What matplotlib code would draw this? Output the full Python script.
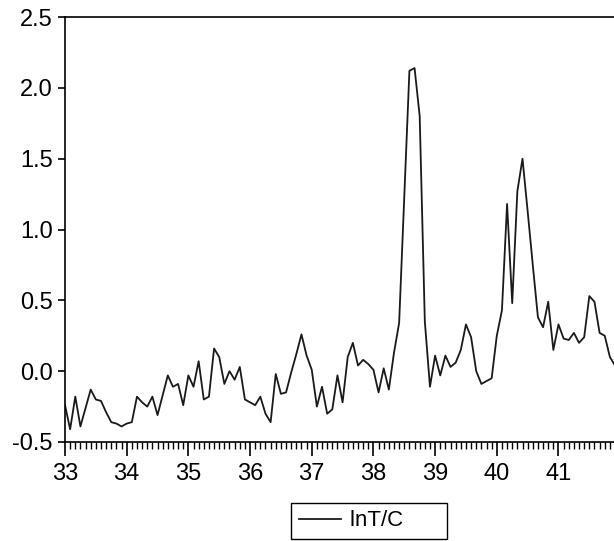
import numpy as np
import matplotlib
matplotlib.use("Agg")
import matplotlib.pyplot as plt
from matplotlib.ticker import MultipleLocator, FormatStrFormatter

plt.rcParams['font.family'] = ['Liberation Sans', 'DejaVu Sans']
plt.rcParams['axes.unicode_minus'] = False

# monthly observations starting at 33
start = 33
per_unit = 12
lnTC = [
    -0.24, -0.41, -0.18, -0.39, -0.26, -0.13, -0.20, -0.21, -0.29, -0.36,
    -0.37, -0.39, -0.37, -0.36, -0.18, -0.22, -0.25, -0.18, -0.31, -0.17,
    -0.03, -0.11, -0.09, -0.24, -0.03, -0.11, 0.07, -0.20, -0.18, 0.16,
    0.10, -0.09, 0.00, -0.06, 0.03, -0.20, -0.22, -0.24, -0.18, -0.30,
    -0.36, -0.02, -0.16, -0.15, -0.01, 0.12, 0.26, 0.11, 0.01, -0.25,
    -0.11, -0.30, -0.27, -0.03, -0.22, 0.10, 0.20, 0.04, 0.08, 0.05,
    0.01, -0.15, 0.02, -0.13, 0.13, 0.34, 1.23, 2.12, 2.14, 1.80,
    0.35, -0.11, 0.11, -0.03, 0.11, 0.03, 0.06, 0.15, 0.33, 0.24,
    0.00, -0.09, -0.07, -0.05, 0.25, 0.43, 1.18, 0.48, 1.27, 1.50,
    1.13, 0.75, 0.38, 0.31, 0.49, 0.15, 0.33, 0.23, 0.22, 0.27,
    0.20, 0.24, 0.53, 0.49, 0.27, 0.25, 0.10, 0.04,
]
x = start + np.arange(len(lnTC)) / per_unit

fig = plt.figure(figsize=(6.14, 5.41), dpi=100)
ax = fig.add_axes([65 / 614, 1 - 442 / 541, 1 - 65 / 614, (442 - 17) / 541])

ax.plot(x, lnTC, color='#1a1a1a', linewidth=1.3, label='lnT/C')

ax.set_xlim(33, 41.9)
ax.set_ylim(-0.5, 2.5)
ax.xaxis.set_major_locator(MultipleLocator(1))
ax.xaxis.set_minor_locator(MultipleLocator(1 / 12))
ax.yaxis.set_major_locator(MultipleLocator(0.5))
ax.yaxis.set_major_formatter(FormatStrFormatter('%.1f'))
ax.tick_params(axis='x', which='major', direction='out', length=10, width=1.2,
               labelsize=17, pad=5)
ax.tick_params(axis='x', which='minor', direction='out', length=5, width=1)
ax.tick_params(axis='y', which='major', direction='out', length=5, width=1.2,
               labelsize=17, pad=4)
ax.spines['right'].set_visible(False)
for s in ['left', 'bottom', 'top']:
    ax.spines[s].set_linewidth(1.2)

leg = fig.legend(loc='center', bbox_to_anchor=(369 / 614, 1 - 521 / 541),
                 fontsize=16, frameon=True, fancybox=False, edgecolor='black',
                 framealpha=1, handlelength=1.9, handletextpad=0.4,
                 borderpad=0.35, borderaxespad=0)
leg.get_frame().set_linewidth(1.0)
# EViews-style box is wider on the right side of the text
leg.get_texts()[0].set_text('lnT/C      ')

fig.savefig('out.png', dpi=100)
